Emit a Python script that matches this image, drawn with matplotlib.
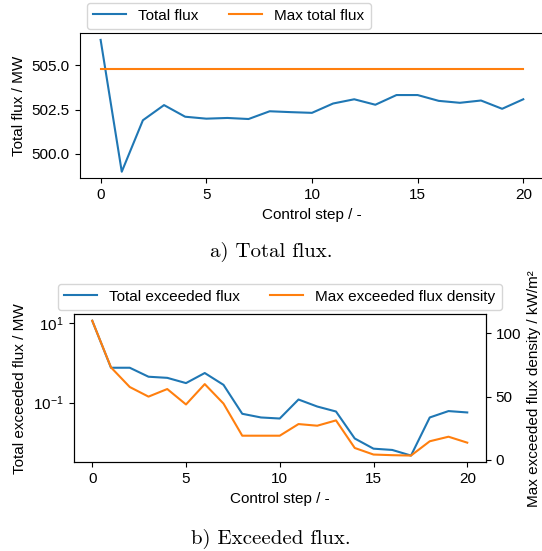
import matplotlib
matplotlib.use("Agg")
import matplotlib.pyplot as plt
from matplotlib.ticker import FixedLocator, NullLocator

plt.rcParams['font.family'] = ['Liberation Sans', 'DejaVu Sans']
plt.rcParams['font.size'] = 11
plt.rcParams['mathtext.fontset'] = 'custom'
plt.rcParams['mathtext.rm'] = 'Liberation Sans'
plt.rcParams['mathtext.it'] = 'Liberation Sans:italic'
plt.rcParams['mathtext.bf'] = 'Liberation Sans:bold'

steps = list(range(21))
total_flux = [506.45, 498.97, 501.89, 502.75, 502.09, 501.98, 502.02, 501.96, 502.4,
              502.35, 502.31, 502.84, 503.08, 502.77, 503.32, 503.32, 502.99, 502.88,
              503.01, 502.54, 503.08]
max_total_flux = 504.81

exceeded_flux = [11.4, 0.753, 0.753, 0.448, 0.42, 0.31, 0.555, 0.28, 0.0526, 0.0425, 0.040,
                 0.12, 0.080, 0.060, 0.0126, 0.0070, 0.0065, 0.0047, 0.0425, 0.0615, 0.0568]
max_exceeded_density = [110.0, 73.1, 57.6, 50.0, 56.0, 43.8, 59.9, 44.5, 19.1, 19.1, 19.1,
                        28.3, 27.0, 31.2, 9.4, 4.2, 3.7, 3.4, 14.7, 18.3, 13.6]

blue = '#1f77b4'
orange = '#ff7f0e'

W, H = 542, 551
fig = plt.figure(figsize=(W / 100, H / 100), dpi=100)

# Top panel (pixel box: left 79.5, right 544.4, top 33.3, bottom 178.3)
ax1 = fig.add_axes([79.5 / W, 1 - 178.3 / H, (544.4 - 79.5) / W, (178.3 - 33.3) / H])
ax1.plot(steps, total_flux, color=blue, lw=1.5, label='Total flux')
ax1.plot(steps, [max_total_flux] * len(steps), color=orange, lw=1.5, label='Max total flux')
ax1.set_xlabel('Control step / -')
ax1.set_ylabel('Total flux / MW')
ax1.set_xticks([0, 5, 10, 15, 20])
ax1.set_yticks([500.0, 502.5, 505.0])
ax1.set_yticklabels(['500.0', '502.5', '505.0'])
ax1.legend(loc='lower left', bbox_to_anchor=(0.0168, 1.03), ncol=2, borderaxespad=0,
           handlelength=2.15)

# Bottom panel (pixel box: left 73.5, right 486, top 314, bottom 462.3)
ax2 = fig.add_axes([73.5 / W, 1 - 462.3 / H, (486 - 73.5) / W, (462.3 - 314) / H])
l1, = ax2.plot(steps, exceeded_flux, color=blue, lw=1.5, label='Total exceeded flux')
ax2.set_yscale('log')
ax2.yaxis.set_major_locator(FixedLocator([0.1, 10]))
ax2.yaxis.set_minor_locator(NullLocator())
ax2.set_xlabel('Control step / -')
ax2.set_ylabel('Total exceeded flux / MW')
ax2.set_xticks([0, 5, 10, 15, 20])

ax3 = ax2.twinx()
l2, = ax3.plot(steps, max_exceeded_density, color=orange, lw=1.5, label='Max exceeded flux density')
ax3.set_ylabel('Max exceeded flux density / kW/m²')
ax3.set_yticks([0, 50, 100])
ax2.legend(handles=[l1, l2], loc='lower center', bbox_to_anchor=(0.5, 1.028), ncol=2,
           borderaxespad=0, handlelength=2.15)

fig.text(0.5, 1 - 252 / H, 'a) Total flux.', ha='center', va='center',
         family='cmr10', fontsize=15)
fig.text(0.5, 1 - 539 / H, 'b) Exceeded flux.', ha='center', va='center',
         family='cmr10', fontsize=15)

fig.savefig('out.png', dpi=100)
